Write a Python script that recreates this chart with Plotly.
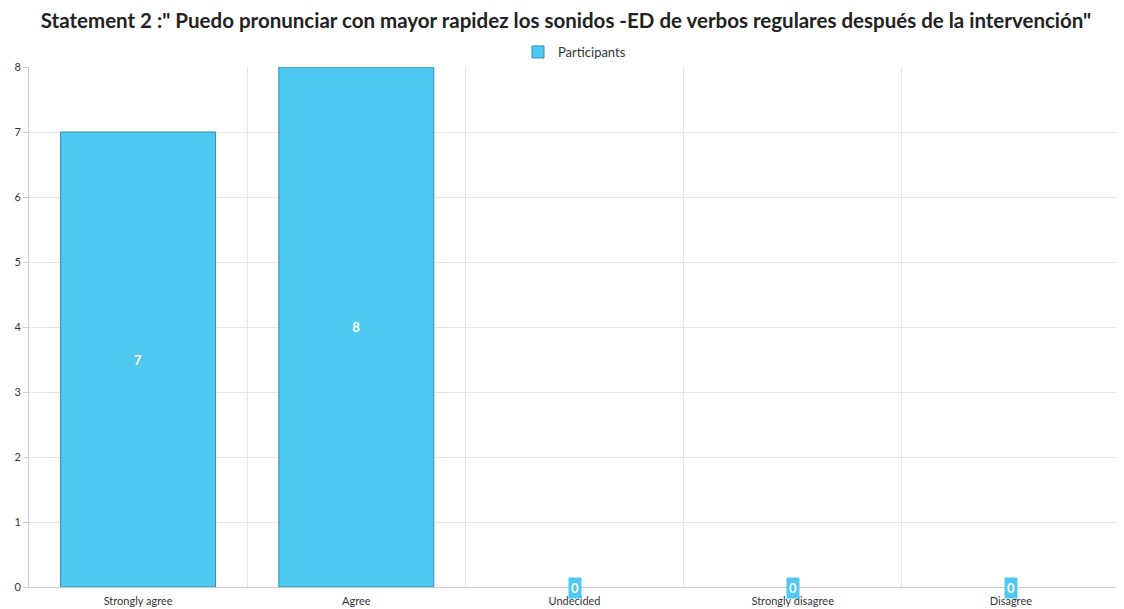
import plotly.graph_objects as go

categories = ["Strongly agree", "Agree", "Undecided", "Strongly disagree", "Disagree"]
values = [7, 8, 0, 0, 0]
series_name = "Participants"
title = 'Statement 2 :" Puedo pronunciar con mayor rapidez los sonidos -ED de verbos regulares después de la intervención"'

fill = "#4FC9F2"
edge = "#2F8DB8"

fig = go.Figure()
fig.add_trace(go.Bar(
    x=categories, y=values, name=series_name,
    marker=dict(color=fill, line=dict(color=edge, width=[1 if v else 0 for v in values])),
    width=0.71,
    text=["<b>%d</b>" % v if v else "" for v in values],
    textposition="inside", insidetextanchor="middle",
    textfont=dict(color="white", size=13, family="Lato"),
    showlegend=True,
))

for c, v in zip(categories, values):
    if v == 0:
        fig.add_annotation(x=c, y=v, text="<b>0</b>", showarrow=False,
                           bgcolor=fill, font=dict(color="white", size=13, family="Lato"),
                           borderpad=2, yanchor="middle", yshift=-1)

fig.update_layout(
    width=1116, height=601,
    paper_bgcolor="white", plot_bgcolor="white",
    font=dict(family="Lato", color="#444"),
    title=dict(text="<b>" + title + "</b>", x=0.5, xanchor="center", y=0.978, yanchor="middle",
               font=dict(size=20.5, color="#222", family="Lato")),
    legend=dict(orientation="h", x=0.5, xanchor="center", y=1.0, yanchor="bottom",
                font=dict(size=13, color="#333")),
    margin=dict(l=21, r=4, t=59, b=22),
    bargap=0.29,
    xaxis=dict(type="category", tickson="boundaries", showgrid=True, gridcolor="#E6E6E6",
               showline=True, linecolor="#CCCCCC", ticks="", ticklabelstandoff=4,
               automargin=False, tickfont=dict(size=11, color="#333")),
    yaxis=dict(range=[0, 8], dtick=1, showgrid=True, gridcolor="#E6E6E6", showline=True,
               linecolor="#CCCCCC", ticks="outside", ticklen=5, tickcolor="#CCCCCC",
               automargin=False, tickfont=dict(size=11, color="#333"), zeroline=False),
)

fig.write_html("out.html")
